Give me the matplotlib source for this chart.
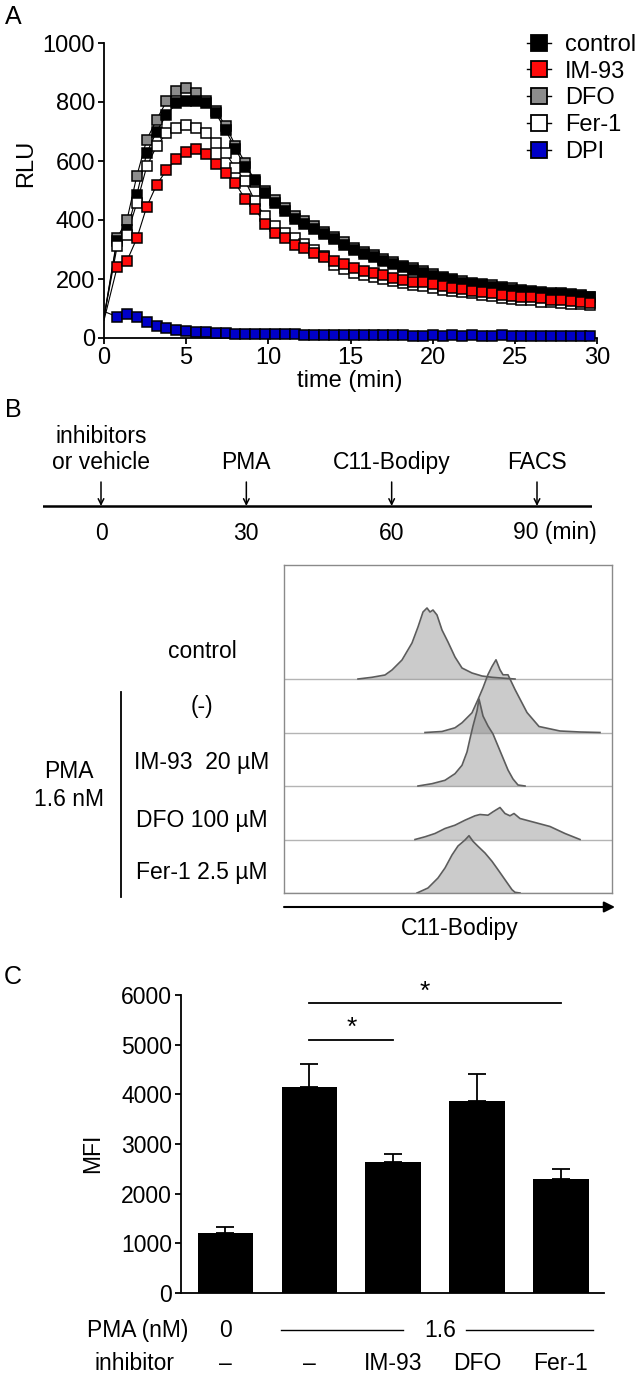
import numpy as np
import matplotlib
matplotlib.use("Agg")
import matplotlib.pyplot as plt
from matplotlib.lines import Line2D

plt.rcParams['font.family'] = ['Liberation Sans', 'DejaVu Sans']

# ---------------- Panel A data ----------------
series_names = ['control', 'IM-93', 'DFO', 'Fer-1', 'DPI']
start_vals = {'control': 70, 'IM-93': 60, 'DFO': 70, 'Fer-1': 70, 'DPI': 90}
control = [330, 367, 486, 627, 700, 757, 795, 805, 805, 797, 762, 705, 640, 580, 535, 490, 458, 430, 405, 386,
           368, 352, 334, 316, 300, 285, 273, 262, 250, 240, 230, 220, 210, 202, 196, 188, 183, 178, 173, 169,
           164, 160, 156, 153, 150, 148, 145, 141, 138]
im93 = [240, 262, 338, 445, 519, 569, 607, 632, 640, 624, 590, 560, 524, 470, 436, 388, 356, 338, 316, 304,
        288, 274, 260, 252, 238, 226, 219, 212, 204, 195, 191, 190, 184, 177, 170, 166, 160, 156, 151, 145,
        141, 140, 139, 135, 130, 128, 127, 121, 120]
dfo = [339, 401, 550, 672, 740, 802, 836, 847, 830, 802, 768, 720, 652, 593, 530, 500, 468, 440, 415, 398,
       378, 360, 342, 324, 306, 292, 280, 268, 256, 245, 236, 226, 216, 207, 200, 193, 188, 183, 178, 173,
       168, 163, 159, 156, 154, 152, 150, 146, 140]
fer1 = [311, 350, 458, 582, 650, 695, 712, 723, 712, 695, 661, 627, 576, 531, 463, 412, 378, 356, 339, 320,
        300, 278, 248, 234, 222, 213, 207, 200, 192, 185, 180, 176, 170, 164, 160, 155, 151, 146, 141, 137,
        132, 130, 129, 122, 121, 117, 115, 114, 113]
dpi = [72, 83, 72, 55, 40, 33, 27, 24, 22, 19, 17, 17, 15, 14, 14, 12, 12, 13, 12, 11,
       11, 11, 10, 10, 10, 10, 10, 9, 10, 9, 8, 8, 9, 8, 9, 8, 9, 8, 8, 9,
       8, 7, 8, 8, 8, 8, 8, 8, 8]
series_vals = {'control': control, 'IM-93': im93, 'DFO': dfo, 'Fer-1': fer1, 'DPI': dpi}
series_colors = {'control': '#000000', 'IM-93': '#ff0a0a', 'DFO': '#8c8c8c', 'Fer-1': '#ffffff', 'DPI': '#0000c8'}
draw_order = ['DFO', 'control', 'Fer-1', 'IM-93', 'DPI']
time_step = 0.6
time_first = 0.8

# ---------------- Panel B data ----------------
timeline_times = [0, 30, 60, 90]
timeline_events = ['inhibitors\nor vehicle', 'PMA', 'C11-Bodipy', 'FACS']
timeline_ticks = ['0', '30', '60', '90 (min)']

hist_labels = ['control', '(-)', 'IM-93  20 µM', 'DFO 100 µM', 'Fer-1 2.5 µM']
hist_x = {
    'control': [74, 88, 101, 108, 118, 128, 134, 139, 143, 146, 149, 153, 158, 164, 171, 178, 188, 198, 208, 221, 231],
    '(-)': [141, 158, 171, 178, 188, 194, 199, 204, 208, 212, 216, 219, 224, 228, 231, 243, 255, 276, 296, 316],
    'IM-93  20 µM': [134, 148, 161, 171, 178, 183, 186, 189, 193, 195, 199, 204, 209, 214, 219, 224, 229, 234, 241],
    'DFO 100 µM': [131, 141, 151, 161, 171, 181, 191, 196, 204, 209, 216, 221, 226, 230, 236, 251, 266, 281, 296],
    'Fer-1 2.5 µM': [133, 144, 154, 161, 168, 174, 181, 185, 189, 194, 201, 208, 214, 221, 228, 231, 236],
}
hist_y = {
    'control': [0, 1.7, 4, 9, 19, 36, 52, 67, 71, 67, 69, 64, 49, 37, 22, 11, 6, 3, 1.7, 0.7, 0],
    '(-)': [0, 1, 4.7, 9.7, 19.7, 33, 44.7, 58, 66, 72.7, 62.7, 57.7, 57.7, 49.3, 43, 20, 6, 1.5, 0.5, 0],
    'IM-93  20 µM': [0, 2.3, 5.7, 12.3, 20.7, 34, 47.3, 60, 75, 87, 70, 60, 52, 40, 28, 16, 7, 1, 0],
    'DFO 100 µM': [0, 2.7, 6, 11, 14.3, 19.3, 23.7, 25, 24.3, 27.7, 32, 26, 23.7, 26, 21, 17, 13, 6, 0],
    'Fer-1 2.5 µM': [0, 5, 15, 25, 38, 47, 53, 57.3, 51.7, 46.7, 40, 31.7, 23.3, 13.3, 3.3, 0.7, 0],
}

# ---------------- Panel C data ----------------
groups = ['–', '–', 'IM-93', 'DFO', 'Fer-1']
pma_labels = ['0', '1.6']
mfi = [1208, 4147, 2637, 3865, 2295]
mfi_err = [121, 463, 161, 544, 201]
sig_pairs = [(1, 2, 5100), (1, 4, 5830)]

# ======================================================
W, H = 636, 1373
fig = plt.figure(figsize=(W / 100, H / 100), dpi=100)


def fx(px):
    return px / W


def fy(py):
    return 1 - py / H


FS = 17
FB = 16.5
# ---------------- Panel A ----------------
axA = fig.add_axes([fx(104), fy(338), fx(597) - fx(104), fy(43) - fy(338)])
n = len(control)
t = np.concatenate([[0.0], time_first + time_step * np.arange(n)])
for name in draw_order:
    v = np.concatenate([[start_vals[name]], series_vals[name]])
    axA.plot(t, v, '-', color='black', lw=0.8, zorder=2)
    axA.plot(t[1:], v[1:], 's', ms=7.6, mfc=series_colors[name], mec='black', mew=1.1, zorder=3, clip_on=False)
axA.set_xlim(0, 30)
axA.set_ylim(0, 1000)
axA.set_xticks(range(0, 31, 5))
axA.set_yticks(range(0, 1001, 200))
for s in ['top', 'right']:
    axA.spines[s].set_visible(False)
for s in ['left', 'bottom']:
    axA.spines[s].set_linewidth(1.3)
axA.tick_params(labelsize=FS, width=1.3, length=4.5, pad=2)
fig.text(fx(350), fy(381), 'time (min)', ha='center', va='center', fontsize=FS)
fig.text(fx(26), fy(163), 'RLU', ha='center', va='center', rotation=90, fontsize=FS)

handles = [Line2D([], [], color='black', lw=1.0, marker='s', ms=11, mfc=series_colors[nm], mec='black', mew=1.3)
           for nm in series_names]
axA.legend(handles, series_names, loc='upper left', bbox_to_anchor=(fx(527), fy(34)),
           bbox_transform=fig.transFigure, frameon=False, fontsize=FS, handlelength=1.0,
           handletextpad=0.6, labelspacing=0.2, borderpad=0, borderaxespad=0)

# ---------------- Panel B: timeline ----------------
px_per_min = (537 - 101) / 90.0
axT = fig.add_axes([fx(43), fy(545), fx(592) - fx(43), fy(420) - fy(545)])
axT.set_xlim((43 - 101) / px_per_min, (592 - 101) / px_per_min)
axT.set_ylim(-39, 86)
axT.axis('off')
axT.axhline(0, color='black', lw=1.8)
for tt, ev, tk in zip(timeline_times, timeline_events, timeline_ticks):
    axT.annotate('', xy=(tt, 0), xytext=(tt, 24),
                 arrowprops=dict(arrowstyle='->', color='black', lw=1.1, shrinkA=0, shrinkB=0))
    axT.text(tt, 32, ev, ha='center', va='bottom', fontsize=FB, linespacing=1.15)
    if tk.endswith('(min)'):
        axT.text(tt - 5.0, -27, tk, ha='left', va='center', fontsize=FB, clip_on=False)
    else:
        axT.text(tt, -27, tk, ha='center', va='center', fontsize=FB)

# ---------------- Panel B: histograms ----------------
axH = fig.add_axes([fx(284), fy(893), fx(612) - fx(284), fy(565) - fy(893)])
axH.set_xlim(0, 328)
axH.set_ylim(0, 328)
axH.set_xticks([])
axH.set_yticks([])
for s in axH.spines.values():
    s.set_color('#8a8a8a')
    s.set_linewidth(1.0)
row_step = 53.5
label_y = [241, 186, 130, 72, 21]
for i, lab in enumerate(hist_labels):
    base = (len(hist_labels) - 1 - i) * row_step
    x = np.array(hist_x[lab], float)
    y = np.array(hist_y[lab], float)
    axH.plot([0, 328], [base, base], color='#b4b4b4', lw=1.0, zorder=1)
    axH.fill_between(x, base, base + y, color='#8c8c8c', alpha=0.45, lw=0, zorder=2)
    axH.plot(x, base + y, color='#5c5c5c', lw=1.2, zorder=3)
    axH.text(-82, label_y[i], lab, ha='center', va='center', fontsize=FB)
axH.plot([-163, -163], [-4, 201], color='black', lw=1.3, clip_on=False)
axH.text(-215, 121, 'PMA', ha='center', va='center', fontsize=FB)
axH.text(-215, 93, '1.6 nM', ha='center', va='center', fontsize=FB)
axH.annotate('', xy=(331, -14), xytext=(0, -14), annotation_clip=False,
             arrowprops=dict(arrowstyle='-|>', color='black', lw=1.5, mutation_scale=16, shrinkA=0, shrinkB=0))
axH.text(176, -35, 'C11-Bodipy', ha='center', va='center', fontsize=FB)

# ---------------- Panel C ----------------
axC = fig.add_axes([fx(181), fy(1293), fx(604) - fx(181), fy(995) - fy(1293)])
xpos = np.arange(len(mfi))
axC.bar(xpos, mfi, width=0.655, color='black', zorder=2)
axC.errorbar(xpos, mfi, yerr=[np.zeros(len(mfi)), mfi_err], fmt='none', ecolor='black',
             elinewidth=1.3, capsize=6.5, capthick=1.3, zorder=1)
axC.set_xlim(-0.524, 4.512)
axC.set_ylim(0, 6000)
axC.set_yticks(range(0, 6001, 1000))
axC.set_xticks([])
for s in ['top', 'right']:
    axC.spines[s].set_visible(False)
for s in ['left', 'bottom']:
    axC.spines[s].set_linewidth(1.3)
axC.tick_params(axis='y', labelsize=FB, width=1.3, length=4.5, pad=2)
for a, b, yv in sig_pairs:
    axC.plot([a, b], [yv, yv], color='black', lw=1.3, clip_on=False)
axC.text(1.51, 5100, '*', ha='center', va='bottom', fontsize=19)
axC.text(2.38, 5830, '*', ha='center', va='bottom', fontsize=19)
fig.text(fx(93), fy(1153), 'MFI', ha='center', va='center', rotation=90, fontsize=FB)

row1, row2 = -745, -1410
axC.text(-1.04, row1, 'PMA (nM)', ha='center', va='center', fontsize=FB, clip_on=False)
axC.text(0, row1, pma_labels[0], ha='center', va='center', fontsize=FB)
axC.text(2.56, row1, pma_labels[1], ha='center', va='center', fontsize=FB)
axC.plot([0.67, 2.12], [row1, row1], color='black', lw=1.0, clip_on=False)
axC.plot([2.87, 4.38], [row1, row1], color='black', lw=1.0, clip_on=False)
axC.text(-1.08, row2, 'inhibitor', ha='center', va='center', fontsize=FB)
for xi, g in zip(xpos, groups):
    axC.text(xi, row2, g, ha='center', va='center', fontsize=FB)

# panel letters
for letter, (px, py) in zip('ABC', [(13, 17), (13, 410), (13, 977)]):
    fig.text(fx(px), fy(py), letter, ha='center', va='center', fontsize=18)

fig.savefig('out.png', dpi=100)
